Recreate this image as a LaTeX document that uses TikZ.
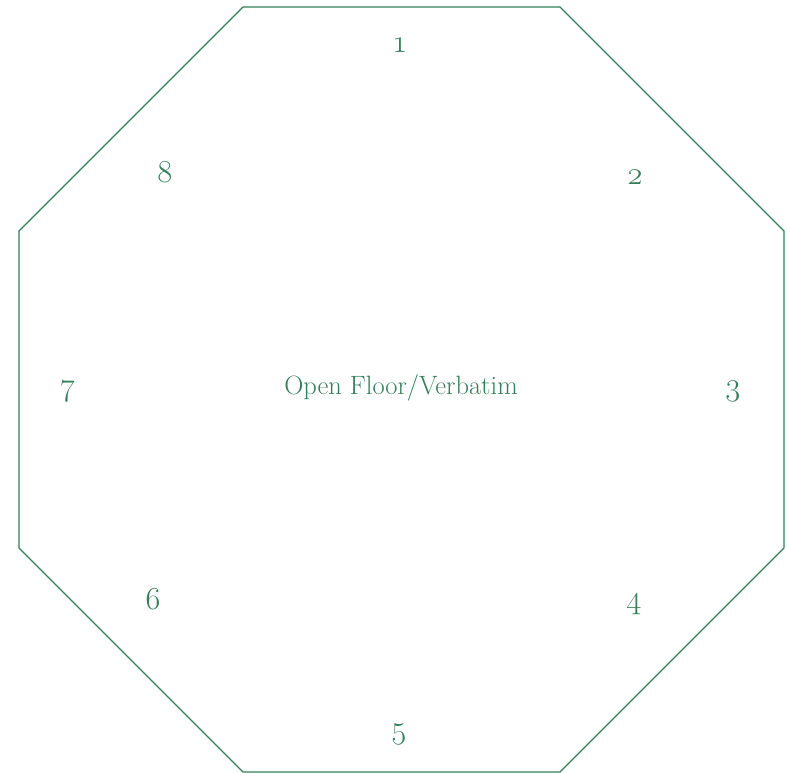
\documentclass[tikz,border=0pt]{standalone}
\usepackage{fontspec}
\setmainfont{Latin Modern Roman}
\definecolor{verde}{HTML}{337F5A}
\begin{document}
\begin{tikzpicture}[x=1pt,y=-1pt,
  lado/.style={draw=verde,line width=1.2pt},
  numero/.style={text=verde,font=\fontsize{32}{38}\selectfont},
  centro/.style={text=verde,font=\fontsize{26.5}{32}\selectfont}]
				\useasboundingbox (0,0) rectangle (787,773);
				% Octágono
				\draw[lado] (243,7) -- (560,7) -- (784,231) -- (784,548) -- (560,772) -- (243,772) -- (19,548) -- (19,231) -- cycle;
				
				% Texto central
				\node[centro] (texto) at (401,388) {Open Floor/Verbatim};
				
				% Números alrededor
				\node[numero] (n1) at (400,45) {\oldstylenums{1}};
				\node[numero] (n2) at (635,177) {\oldstylenums{2}};
				\node[numero] (n3) at (733,391) {\oldstylenums{3}};
				\node[numero] (n4) at (634,604) {\oldstylenums{4}};
				\node[numero] (n5) at (399,734) {\oldstylenums{5}};
				\node[numero] (n6) at (153,599) {\oldstylenums{6}};
				\node[numero] (n7) at (68,391) {\oldstylenums{7}};
				\node[numero] (n8) at (165,172) {\oldstylenums{8}};
			\end{tikzpicture}
\end{document}
